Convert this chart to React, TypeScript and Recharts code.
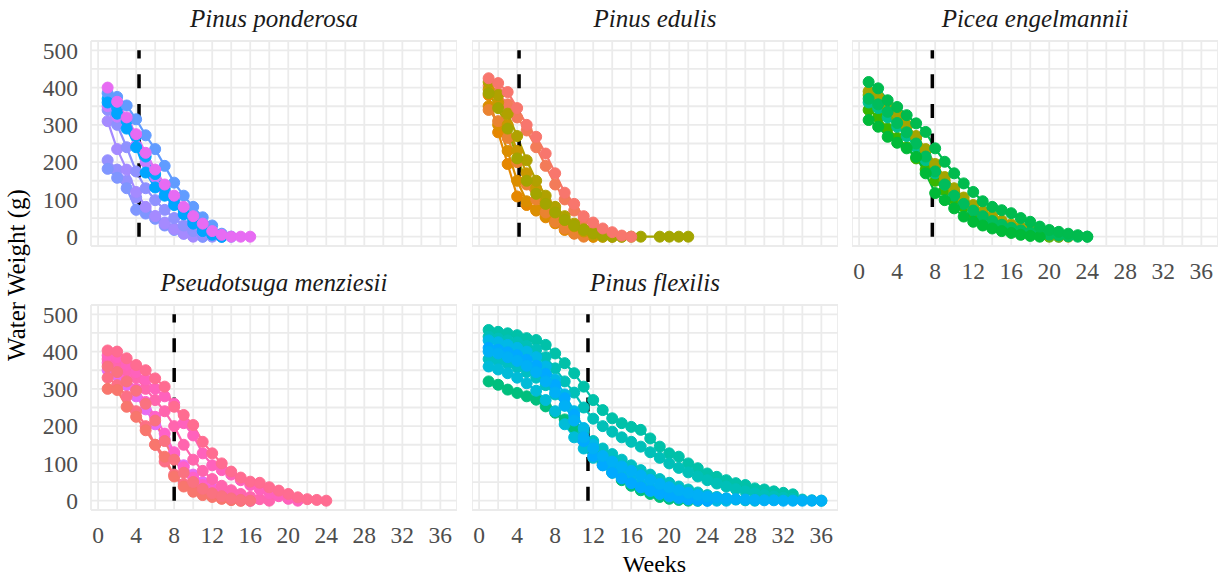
import React from 'react';
import { LineChart, Line, XAxis, YAxis, CartesianGrid, ReferenceLine } from 'recharts';

// axis ticks: grid every 2 weeks / 50 g, labels every 4 weeks / 100 g
const weekGrid = [0, 2, 4, 6, 8, 10, 12, 14, 16, 18, 20, 22, 24, 26, 28, 30, 32, 34, 36];
const weekLabels = [0, 4, 8, 12, 16, 20, 24, 28, 32, 36];
const weightGrid = [0, 50, 100, 150, 200, 250, 300, 350, 400, 450, 500];
const weightLabels = [0, 100, 200, 300, 400, 500];

// weeks of measurement (series values start at week 1)
const weeks = [
  1, 2, 3, 4, 5, 6, 7, 8, 9, 10, 11, 12, 13, 14, 15, 16, 17, 18,
  19, 20, 21, 22, 23, 24, 25, 26, 27, 28, 29, 30, 31, 32, 33, 34, 35, 36,
];

const speciesNames = [
  'Pinus ponderosa',
  'Pinus edulis',
  'Picea engelmannii',
  'Pseudotsuga menziesii',
  'Pinus flexilis',
];

// dashed vertical marker per species (weeks)
const cutoffWeeks = [4.3, 4.2, 7.7, 8.0, 11.45];

const ponderosaColors = ['#9590FF', '#7F96FF', '#A58AFF', '#8F91FF', '#C77CFF', '#00A9FF', '#619CFF', '#00A5FF', '#E76BF3'];
const ponderosaWater: (number | null)[][] = [
  [205, 180, 150, 105, 70, 55, 38, 22, 10, 4, 0],
  [182, 158, 130, 72, 62, 48, 30, 18, 8, 2, 0],
  [310, 235, 180, 120, 80, 55, 35, 20, 8, 0],
  [340, 300, 240, 175, 130, 98, 72, 50, 30, 15, 5, 0],
  [350, 322, 298, 245, 200, 160, 122, 90, 62, 40, 20, 5, 0],
  [370, 345, 310, 270, 215, 168, 130, 100, 70, 45, 25, 8, 0],
  [385, 375, 352, 315, 272, 235, 190, 145, 110, 80, 52, 30, 8, 0],
  [360, 330, 290, 240, 172, 132, 110, 85, 60, 35, 15, 5, 0],
  [400, 362, 320, 275, 225, 180, 140, 110, 80, 55, 35, 15, 5, 0, 0, 0],
];

const edulisColors = ['#E58700', '#DB8E00', '#EA8331', '#F37B59', '#C99800', '#B0A100', '#A3A500', '#F8766D'];
const edulisWater: (number | null)[][] = [
  [380, 280, 195, 108, 85, 70, 52, 36, 18, 9, 4, 0],
  [350, 300, 230, 150, 95, 72, 55, 40, 25, 12, 3, 0],
  [340, 310, 265, 200, 140, 100, 65, 40, 22, 8, 0],
  [405, 385, 355, 320, 285, 240, 190, 140, 100, 70, 45, 25, 10, 0],
  [395, 360, 300, 230, 170, 130, 95, 68, 45, 28, 14, 5, 0],
  [415, 380, 330, 270, 205, 150, 110, 80, 55, 35, 20, 8, 0, 0, 0],
  [385, 345, 290, 210, 150, 115, 88, 65, 45, 30, 18, 10, 4, 0, 0, 0, 0, null, 0, 0, 0, 0],
  [425, 412, 388, 345, 300, 268, 223, 170, 118, 88, 55, 38, 22, 12, 3, 0],
];

const piceaColors = ['#39B600', '#00C08B', '#7CAE00', '#A3A500', '#00BD5C', '#00BA38', '#00BB4E'];
const piceaWater: (number | null)[][] = [
  [340, 320, 290, 265, 240, 210, 180, 150, 125, 100, 80, 62, 48, 36, 26, 18, 12, 7, 3, 0],
  [360, 345, 320, 295, 270, 240, 205, 170, 140, 115, 92, 73, 58, 45, 35, 26, 18, 12, 7, 3, 0],
  [380, 370, 345, 320, 295, 265, 230, 190, 150, 120, 95, 75, 58, 45, 35, 26, 18, 12, 6, 2, 0],
  [390, 375, 355, 330, 300, 270, 235, 195, 160, 130, 105, 85, 68, 55, 43, 33, 25, 18, 12, 6, 2, 0],
  [370, 355, 335, 305, 280, 250, 215, 175, 140, 110, 88, 70, 55, 42, 32, 24, 17, 12, 8, 5, 3, 1, 0, 0],
  [313, 295, 268, 252, 237, 214, 170, 117, 98, 76, 54, 40, 30, 22, 15, 10, 5, 2, 0],
  [415, 398, 366, 348, 326, 304, 281, 237, 201, 170, 143, 120, 95, 80, 71, 63, 50, 40, 27, 18, 13, 8, 4, 0],
];

const douglasColors = ['#E76BF3', '#FF61C9', '#FF65AE', '#FF62BC', '#FD6F86', '#F8766D', '#FA7280', '#FF6C91'];
const douglasWater: (number | null)[][] = [
  [350, 335, 310, 280, 245, 205, 165, 125, 95, 70, 50, 35, 22, 12, 5, 0],
  [370, 355, 330, 300, 265, 225, 180, 130, 90, 62, 42, 28, 18, 10, 5, 0],
  [380, 370, 350, 330, 300, 270, 240, 200, 150, 110, 80, 58, 40, 28, 18, 10, 4, 0],
  [390, 385, 365, 345, 325, 300, 280, 260, 208, 175, 127, 95, 82, 70, 55, 42, 30, 20, 12, 5, 0],
  [330, 310, 280, 240, 200, 150, 105, 70, 45, 30, 20, 12, 6, 2, 0],
  [300, 297, 252, 225, 189, 150, 118, 65, 38, 24, 15, 10, 5, 2, 0],
  [360, 345, 320, 295, 260, 215, 160, 110, 75, 50, 32, 20, 12, 6, 2, 0],
  [403, 400, 382, 364, 350, 328, 306, 252, 230, 203, 158, 127, 100, 78, 62, 51, 48, 36, 27, 18, 9, 4, 2, 0],
];

const flexilisColors = ['#00BF7D', '#00C1A9', '#00C0B8', '#00BFC4', '#00BCD8', '#00B8E7', '#00A9FF', '#00B0F6'];
const flexilisWater: (number | null)[][] = [
  [320, 311, 298, 289, 280, 271, 253, 236, 218, 196, 165, 130, 100, 75, 55, 40, 28, 18, 10, 5, 2, 0, 0],
  [458, 453, 449, 444, 436, 431, 418, 395, 369, 342, 306, 270, 243, 221, 208, 198, 190, 167, 145, 127, 118, 100, 87, 73, 64, 55, 47, 42, 33, 30, 25, 21, 17],
  [440, 435, 430, 425, 415, 405, 385, 355, 320, 290, 250, 220, 200, 185, 170, 158, 145, 130, 115, 100, 88, 76, 65, 55, 46, 38, 31, 25, 20, 15, 11, 8, 5, 3, 1, 0],
  [380, 375, 368, 358, 345, 330, 310, 285, 255, 220, 185, 160, 140, 125, 110, 95, 82, 70, 58, 48, 38, 30, 22, 15, 10, 6, 3, 1, 0],
  [360, 352, 342, 330, 315, 295, 270, 240, 205, 170, 140, 115, 95, 78, 62, 48, 36, 26, 18, 11, 6, 3, 0, 0],
  [430, 425, 418, 410, 400, 385, 360, 325, 285, 240, 195, 150, 115, 90, 72, 58, 45, 34, 25, 18, 12, 8, 4, 2, 0, 0],
  [410, 405, 398, 390, 378, 362, 340, 310, 275, 230, 160, 120, 95, 75, 60, 47, 36, 27, 19, 13, 8, 4, 2, 0],
  [400, 395, 385, 375, 362, 345, 320, 290, 255, 215, 170, 140, 120, 105, 92, 80, 68, 56, 45, 36, 28, 21, 15, 11, 8, 6, 4, 3, 2, 1, 1, 0, 0, 0, 0, 0],
];

const FONT = '"Liberation Serif", "Times New Roman", serif';
const PLOT_W = 366;
const PLOT_H = 205;
const Y_AXIS_W = 91;
const X_AXIS_H = 40;
const PAD = 15; // room above/below the panel so tick labels are not clipped

const panels = [
  { left: 91, top: 41, showY: true, showX: false, colors: ponderosaColors, water: ponderosaWater },
  { left: 472, top: 41, showY: false, showX: false, colors: edulisColors, water: edulisWater },
  { left: 852, top: 41, showY: false, showX: true, colors: piceaColors, water: piceaWater },
  { left: 91, top: 305, showY: true, showX: true, colors: douglasColors, water: douglasWater },
  { left: 472, top: 305, showY: false, showX: true, colors: flexilisColors, water: flexilisWater },
];

const tickStyle = { fontSize: 23.5, fill: '#4D4D4D', fontFamily: FONT };

function Panel({ index }: { index: number }) {
  const p = panels[index];
  const bottomPad = p.showX ? 0 : PAD;
  const width = PLOT_W + (p.showY ? Y_AXIS_W : 0);
  const height = PAD + PLOT_H + (p.showX ? X_AXIS_H : 0) + bottomPad;
  const cutoff = cutoffWeeks[index];

  return (
    <div style={{ position: 'absolute', left: p.left - (p.showY ? Y_AXIS_W : 0), top: p.top - PAD }}>
      <LineChart width={width} height={height} margin={{ top: PAD, right: 0, bottom: bottomPad, left: 0 }}>
        <CartesianGrid stroke="#EBEBEB" strokeWidth={1.8} />
        <XAxis
          type="number"
          dataKey="week"
          domain={[-0.75, 37.75]}
          allowDataOverflow
          ticks={weekGrid}
          interval={0}
          tickFormatter={(v: number) => (weekLabels.includes(v) ? String(v) : '')}
          hide={!p.showX}
          height={X_AXIS_H}
          axisLine={false}
          tickLine={false}
          tickSize={0}
          tickMargin={16}
          tick={tickStyle}
        />
        <YAxis
          type="number"
          domain={[-25, 525]}
          allowDataOverflow
          ticks={weightGrid}
          interval={0}
          tickFormatter={(v: number) => (weightLabels.includes(v) ? String(v) : '')}
          hide={!p.showY}
          width={Y_AXIS_W}
          axisLine={false}
          tickLine={false}
          tickSize={0}
          tickMargin={13}
          tick={tickStyle}
        />
        {p.water.map((vals, i) => (
          <Line
            key={i}
            data={vals.map((v, j) => ({ week: weeks[j], value: v }))}
            dataKey="value"
            type="linear"
            stroke={p.colors[i]}
            strokeWidth={2.2}
            dot={{ r: 5.5, fill: p.colors[i], stroke: p.colors[i], strokeWidth: 1 }}
            activeDot={false}
            connectNulls
            isAnimationActive={false}
          />
        ))}
        <ReferenceLine
          segment={[{ x: cutoff, y: 0 }, { x: cutoff, y: 500 }]}
          stroke="#000000"
          strokeWidth={3.5}
          strokeDasharray="14 15.7"
        />
      </LineChart>
    </div>
  );
}

export default function App() {
  return (
    <div
      style={{
        position: 'absolute',
        left: 0,
        top: 0,
        width: 1221,
        height: 579,
        background: '#ffffff',
        fontFamily: FONT,
        overflow: 'hidden',
      }}
    >
      {panels.map((_, i) => (
        <Panel key={i} index={i} />
      ))}
      <svg
        width={1221}
        height={579}
        style={{ position: 'absolute', left: 0, top: 0, pointerEvents: 'none' }}
      >
        {panels.map((p, i) => (
          <text
            key={i}
            x={p.left + PLOT_W / 2}
            y={p.top - 14}
            textAnchor="middle"
            fontStyle="italic"
            fontSize={25}
            fontFamily={FONT}
            fill="#1A1A1A"
          >
            {speciesNames[i]}
          </text>
        ))}
        <text
          transform="translate(25,275) rotate(-90)"
          textAnchor="middle"
          fontSize={25}
          fontFamily={FONT}
          fill="#000000"
        >
          Water Weight (g)
        </text>
        <text x={654.5} y={571.5} textAnchor="middle" fontSize={24} fontFamily={FONT} fill="#000000">
          Weeks
        </text>
      </svg>
    </div>
  );
}
